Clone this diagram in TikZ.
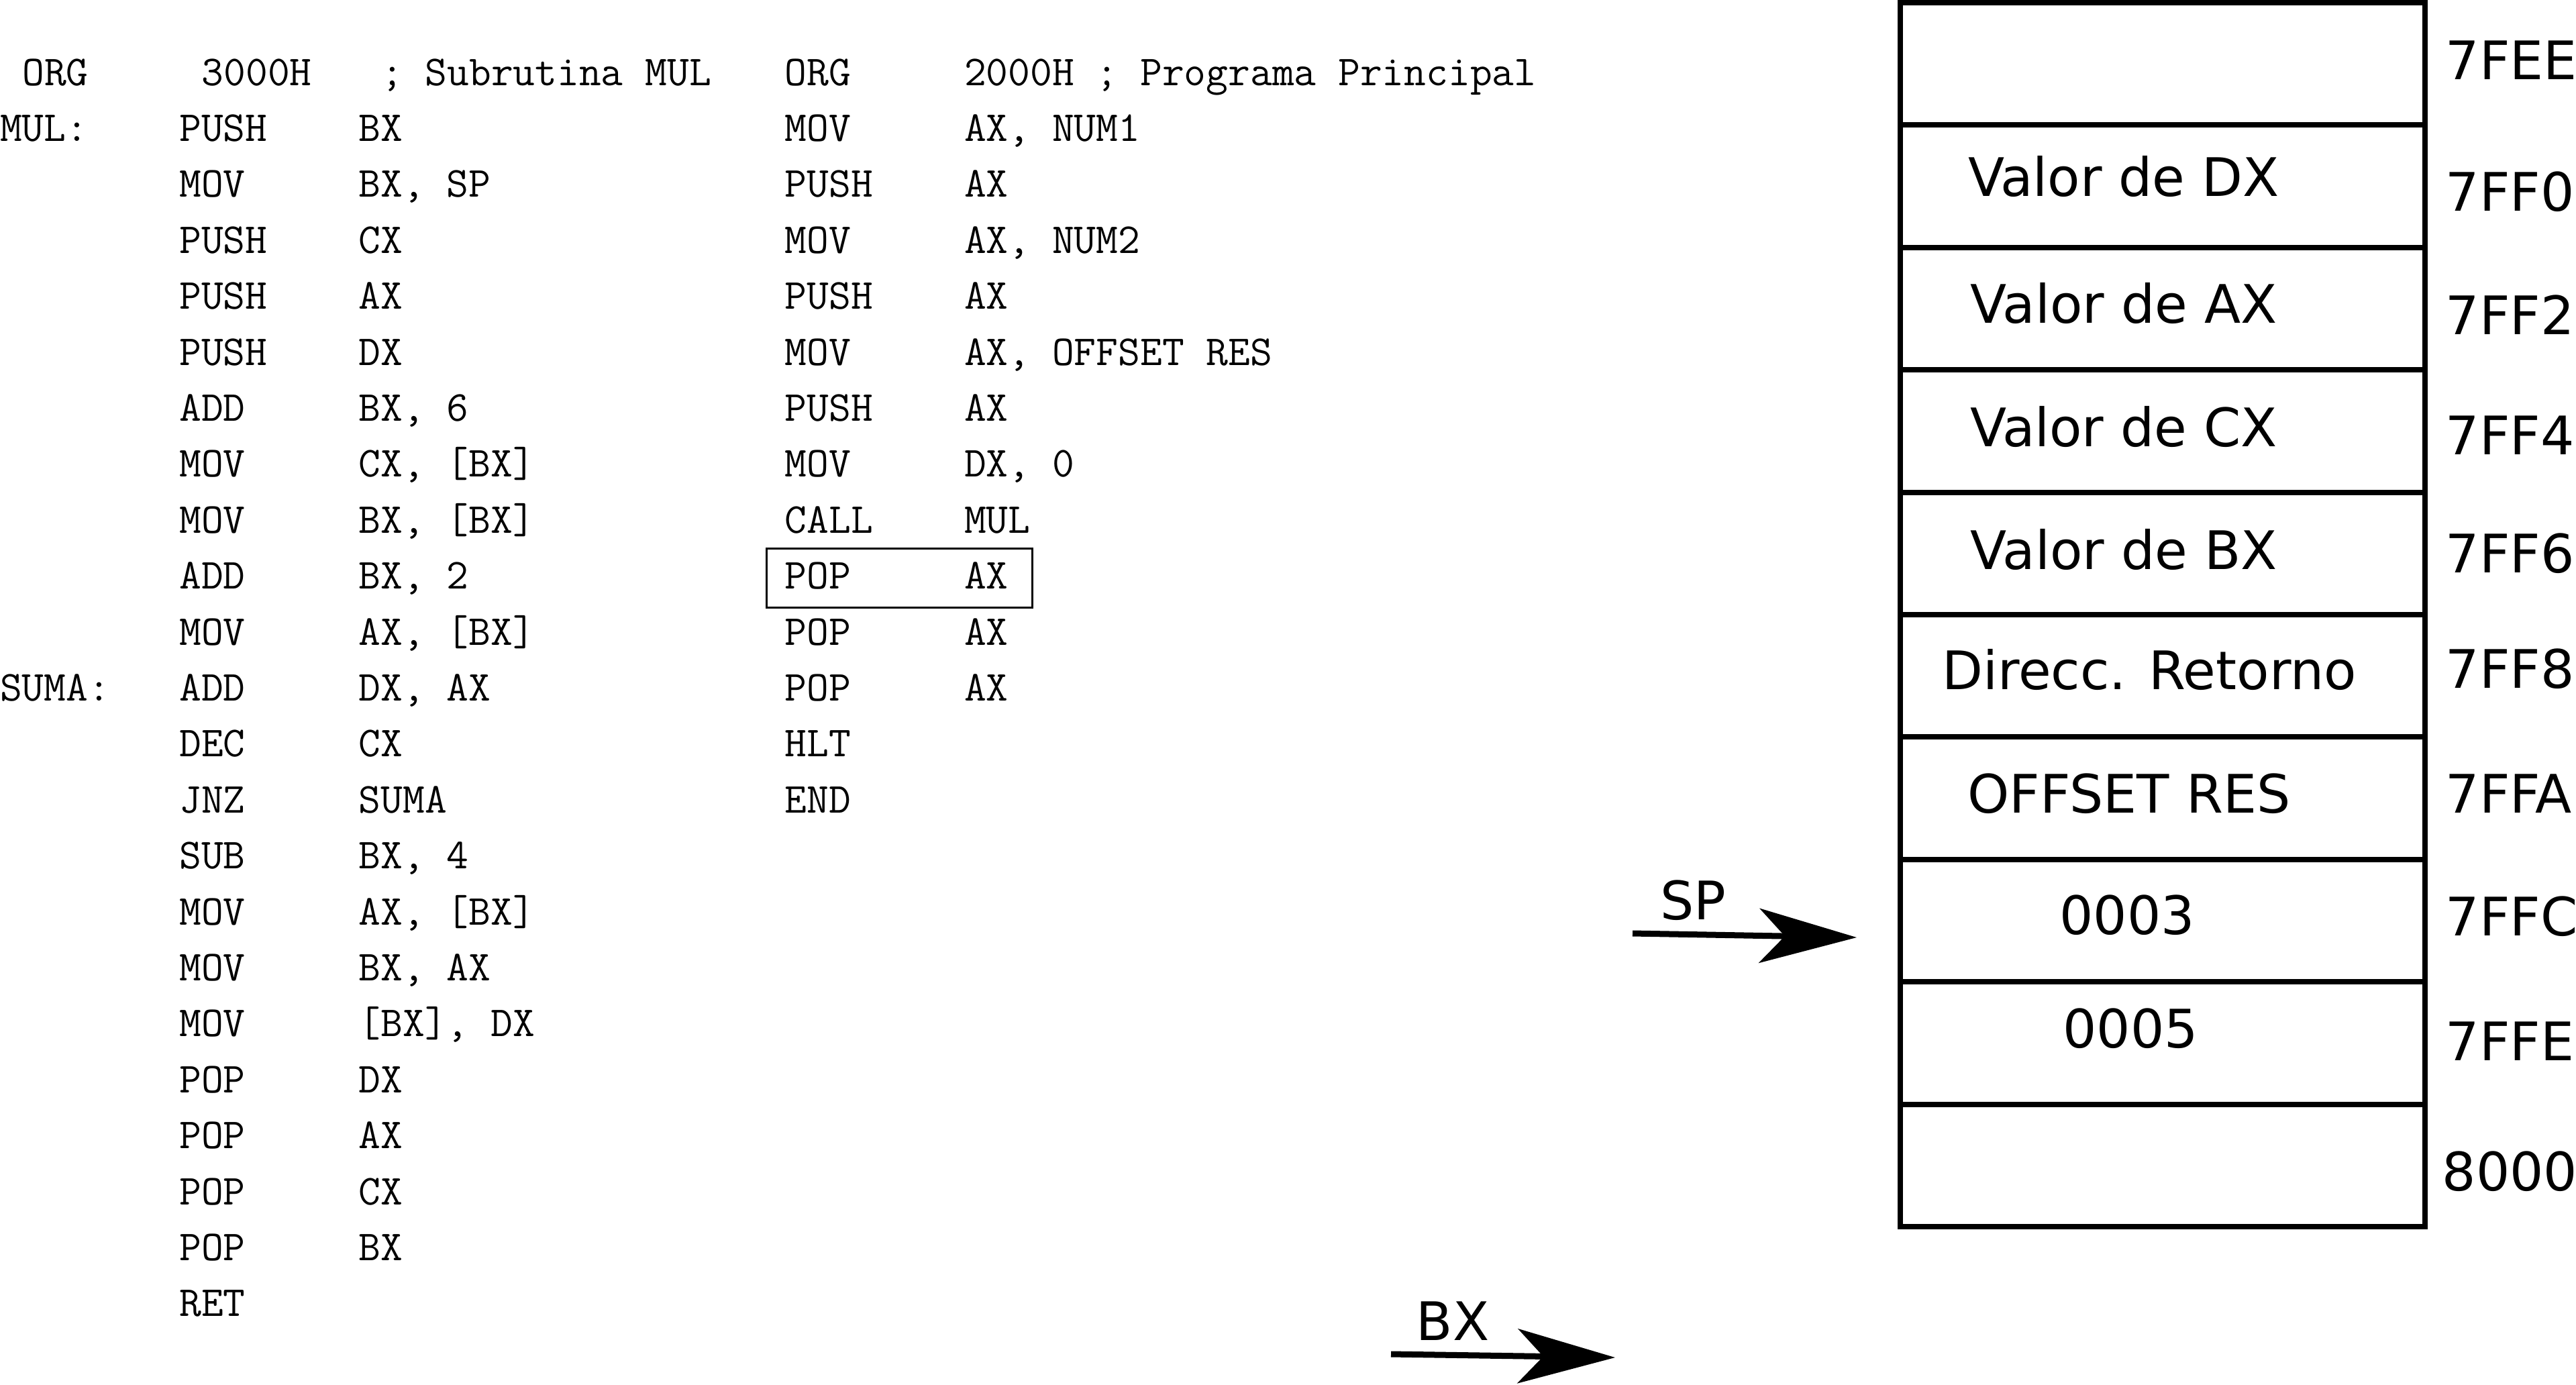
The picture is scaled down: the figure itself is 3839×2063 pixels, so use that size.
\documentclass[tikz,border=0pt]{standalone}
\usepackage{fontspec}
\newfontfamily\cellfont{DejaVu Sans}
\usetikzlibrary{arrows.meta}

% listing grid: character advance, first baseline, line pitch
\newcommand\cw{33.42}
\newcommand\rowzero{127}
\newcommand\rowpitch{83.4}
% \asm{name}{row}{column}{text}
\newcommand\asm[4]{\node[asm] (#1) at ({#3*\cw},{\rowzero+#2*\rowpitch}) {#4};}

\begin{document}
\begin{tikzpicture}[x=0.01cm,y=-0.01cm,
  asm/.style={anchor=base west, inner sep=0pt, outer sep=0pt,
    font=\ttfamily\fontsize{18.1pt}{20pt}\selectfont},
  memcell/.style={draw, line width=0.08cm, minimum width=7.82cm,
    minimum height=1.824cm, inner sep=0pt, outer sep=0pt},
  memtext/.style={anchor=base, inner sep=0pt,
    font=\cellfont\fontsize{22.5pt}{25pt}\selectfont},
  addr/.style={anchor=base west, inner sep=0pt,
    font=\cellfont\fontsize{22.5pt}{25pt}\selectfont},
  hlbox/.style={draw, line width=0.03cm, minimum width=3.95cm,
    minimum height=0.87cm, inner sep=0pt},
  ptr/.style={line width=0.09cm,
    -{Stealth[length=1.45cm, width=0.81cm, inset=0.38cm]}}]
\useasboundingbox (0,0) rectangle (3839,2063);

% ---- subroutine MUL ----
\asm{a0}{0}{1}{ORG}
\asm{a0b}{0}{9}{3000H}
\asm{a0c}{0}{17}{; Subrutina MUL}
\asm{l1}{1}{0}{MUL:}
\asm{a1}{1}{8}{PUSH}   \asm{a1b}{1}{16}{BX}
\asm{a2}{2}{8}{MOV}    \asm{a2b}{2}{16}{BX, SP}
\asm{a3}{3}{8}{PUSH}   \asm{a3b}{3}{16}{CX}
\asm{a4}{4}{8}{PUSH}   \asm{a4b}{4}{16}{AX}
\asm{a5}{5}{8}{PUSH}   \asm{a5b}{5}{16}{DX}
\asm{a6}{6}{8}{ADD}    \asm{a6b}{6}{16}{BX, 6}
\asm{a7}{7}{8}{MOV}    \asm{a7b}{7}{16}{CX, [BX]}
\asm{a8}{8}{8}{MOV}    \asm{a8b}{8}{16}{BX, [BX]}
\asm{a9}{9}{8}{ADD}    \asm{a9b}{9}{16}{BX, 2}
\asm{a10}{10}{8}{MOV}  \asm{a10b}{10}{16}{AX, [BX]}
\asm{l11}{11}{0}{SUMA:}
\asm{a11}{11}{8}{ADD}  \asm{a11b}{11}{16}{DX, AX}
\asm{a12}{12}{8}{DEC}  \asm{a12b}{12}{16}{CX}
\asm{a13}{13}{8}{JNZ}  \asm{a13b}{13}{16}{SUMA}
\asm{a14}{14}{8}{SUB}  \asm{a14b}{14}{16}{BX, 4}
\asm{a15}{15}{8}{MOV}  \asm{a15b}{15}{16}{AX, [BX]}
\asm{a16}{16}{8}{MOV}  \asm{a16b}{16}{16}{BX, AX}
\asm{a17}{17}{8}{MOV}  \asm{a17b}{17}{16}{[BX], DX}
\asm{a18}{18}{8}{POP}  \asm{a18b}{18}{16}{DX}
\asm{a19}{19}{8}{POP}  \asm{a19b}{19}{16}{AX}
\asm{a20}{20}{8}{POP}  \asm{a20b}{20}{16}{CX}
\asm{a21}{21}{8}{POP}  \asm{a21b}{21}{16}{BX}
\asm{a22}{22}{8}{RET}

% ---- main program ----
\asm{p0}{0}{35}{ORG}   \asm{p0b}{0}{43}{2000H ; Programa Principal}
\asm{p1}{1}{35}{MOV}   \asm{p1b}{1}{43}{AX, NUM1}
\asm{p2}{2}{35}{PUSH}  \asm{p2b}{2}{43}{AX}
\asm{p3}{3}{35}{MOV}   \asm{p3b}{3}{43}{AX, NUM2}
\asm{p4}{4}{35}{PUSH}  \asm{p4b}{4}{43}{AX}
\asm{p5}{5}{35}{MOV}   \asm{p5b}{5}{43}{AX, OFFSET RES}
\asm{p6}{6}{35}{PUSH}  \asm{p6b}{6}{43}{AX}
\asm{p7}{7}{35}{MOV}   \asm{p7b}{7}{43}{DX, 0}
\asm{p8}{8}{35}{CALL}  \asm{p8b}{8}{43}{MUL}
\asm{p9}{9}{35}{POP}   \asm{p9b}{9}{43}{AX}
\asm{p10}{10}{35}{POP} \asm{p10b}{10}{43}{AX}
\asm{p11}{11}{35}{POP} \asm{p11b}{11}{43}{AX}
\asm{p12}{12}{35}{HLT}
\asm{p13}{13}{35}{END}

% current instruction
\node[hlbox] (hl) at (1340.5,861.5) {};

% ---- stack ----
\foreach \k in {0,...,9}
  \node[memcell] (m\k) at (3223,{95.2+182.4*\k}) {};

\node[memtext] (v1) at (3165,292)  {Valor de DX};
\node[memtext] (v2) at (3165,481)  {Valor de AX};
\node[memtext] (v3) at (3165,665)  {Valor de CX};
\node[memtext] (v4) at (3165,848)  {Valor de BX};
\node[memtext] (v5) at (3203,1027) {Direcc. Retorno};
\node[memtext] (v6) at (3173,1211) {OFFSET RES};
\node[memtext] (v7) at (3170,1392) {0003};
\node[memtext] (v8) at (3175,1561) {0005};

\node[addr] (d0) at (3644,118)  {7FEE};
\node[addr] (d1) at (3644,314)  {7FF0};
\node[addr] (d2) at (3644,498)  {7FF2};
\node[addr] (d3) at (3644,677)  {7FF4};
\node[addr] (d4) at (3644,853)  {7FF6};
\node[addr] (d5) at (3644,1025) {7FF8};
\node[addr] (d6) at (3644,1211) {7FFA};
\node[addr] (d7) at (3644,1394) {7FFC};
\node[addr] (d8) at (3644,1580) {7FFE};
\node[addr] (d9) at (3639,1774) {8000};

% ---- pointers ----
\node[addr] (splabel) at (2474,1370) {SP};
\coordinate (spfrom) at (2433,1391);
\coordinate (spto) at (2767,1397);
\draw[ptr] (spfrom) -- (spto);

\node[addr] (bxlabel) at (2110,1997) {BX};
\coordinate (bxfrom) at (2073,2018);
\coordinate (bxto) at (2407,2023);
\draw[ptr] (bxfrom) -- (bxto);
\end{tikzpicture}
\end{document}
